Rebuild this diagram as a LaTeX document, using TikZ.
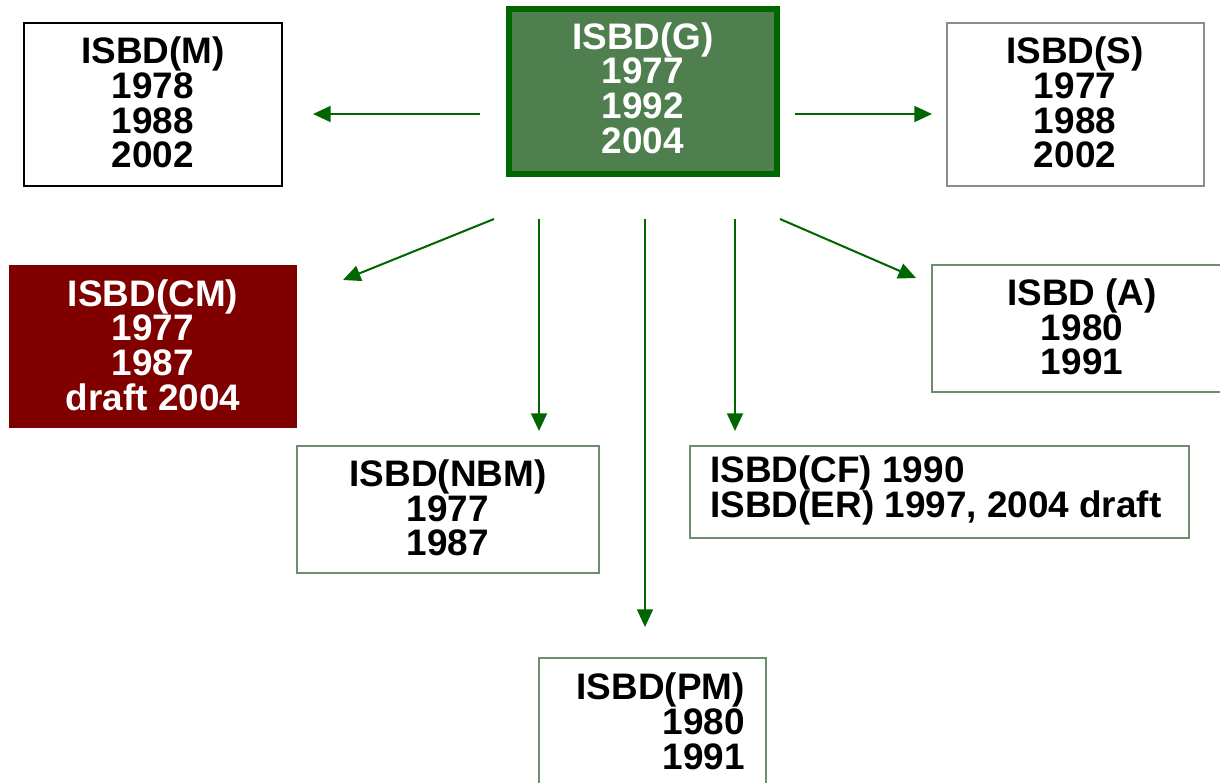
\documentclass[tikz,border=0pt]{standalone}
\usepackage{fontspec}
\setmainfont{Liberation Sans}
\usetikzlibrary{arrows.meta}
\definecolor{arrowgreen}{HTML}{006600}
\definecolor{gfill}{HTML}{4F7F4F}
\definecolor{gline}{HTML}{006600}
\definecolor{cmred}{HTML}{800000}
\definecolor{boxline}{HTML}{6E8C6E}
\definecolor{sline}{HTML}{8C8C8C}
\begin{document}
\begin{tikzpicture}[x=0.02cm,y=-0.02cm,
  lbl/.style={font=\fontsize{21}{19.8}\selectfont\bfseries, inner sep=0pt},
  boxnode/.style={rectangle, inner sep=0pt, line width=0.6pt, fill=white},
  arr/.style={draw=arrowgreen, line width=1.15pt, -{Triangle[length=10pt,width=9pt]}}
]
\useasboundingbox (0,0) rectangle (1220,782);
\clip (0,0) rectangle (1220,782);

% boxes
\node (Mbox) [boxnode, draw=black, minimum width=258*0.02cm, minimum height=163*0.02cm] at (153,104.5) {};
\node (Gbox) [rectangle, inner sep=0pt, fill=gfill, draw=gline, line width=3.4pt, minimum width=268*0.02cm, minimum height=165*0.02cm] at (643,91.5) {};
\node (Sbox) [boxnode, draw=sline, minimum width=257*0.02cm, minimum height=163*0.02cm] at (1075.5,104.5) {};
\node (CMbox) [rectangle, inner sep=0pt, fill=cmred, minimum width=288*0.02cm, minimum height=163*0.02cm] at (153,346.5) {};
\node (Abox) [boxnode, draw=boxline, minimum width=300*0.02cm, minimum height=127*0.02cm] at (1082,328.5) {};
\node (NBMbox) [boxnode, draw=boxline, minimum width=302*0.02cm, minimum height=127*0.02cm] at (448,509.5) {};
\node (CFbox) [boxnode, draw=boxline, minimum width=499*0.02cm, minimum height=92*0.02cm] at (939.5,492) {};
\node (PMbox) [boxnode, draw=boxline, minimum width=227*0.02cm, minimum height=140*0.02cm] at (652.5,728) {};

% texts
\node (Mtext) [lbl, align=center] at (153,102.5) {ISBD(M)\\1978\\1988\\2002};
\node (Gtext) [lbl, align=center, text=white] at (643,88) {ISBD(G)\\1977\\1992\\2004};
\node (Stext) [lbl, align=center] at (1075,102.5) {ISBD(S)\\1977\\1988\\2002};
\node (CMtext) [lbl, align=center, text=white] at (153,345) {ISBD(CM)\\1977\\1987\\draft 2004};
\node (Atext) [lbl, align=center] at (1082,327) {ISBD (A)\\1980\\1991};
\node (NBMtext) [lbl, align=center] at (448,508) {ISBD(NBM)\\1977\\1987};
\node (CFtext) [lbl, align=left, anchor=west] at (710,490.5) {ISBD(CF) 1990\\ISBD(ER) 1997, 2004 draft};
\node (PMtext) [lbl, align=right, anchor=east] at (745,721.5) {ISBD(PM)\\1980\\1991};

% arrow end points
\coordinate (gM) at (480,114);   \coordinate (eM) at (313,114);
\coordinate (gS) at (795,114);   \coordinate (eS) at (932,114);
\coordinate (gCM) at (494,219);  \coordinate (eCM) at (343,280);
\coordinate (gNBM) at (539,219); \coordinate (eNBM) at (539,431);
\coordinate (gPM) at (645,219);  \coordinate (ePM) at (645,627);
\coordinate (gCF) at (735,219);  \coordinate (eCF) at (735,431);
\coordinate (gA) at (780,219);   \coordinate (eA) at (916,278);

\draw[arr] (gM) -- (eM);
\draw[arr] (gS) -- (eS);
\draw[arr] (gCM) -- (eCM);
\draw[arr] (gNBM) -- (eNBM);
\draw[arr] (gPM) -- (ePM);
\draw[arr] (gCF) -- (eCF);
\draw[arr] (gA) -- (eA);
\end{tikzpicture}
\end{document}
